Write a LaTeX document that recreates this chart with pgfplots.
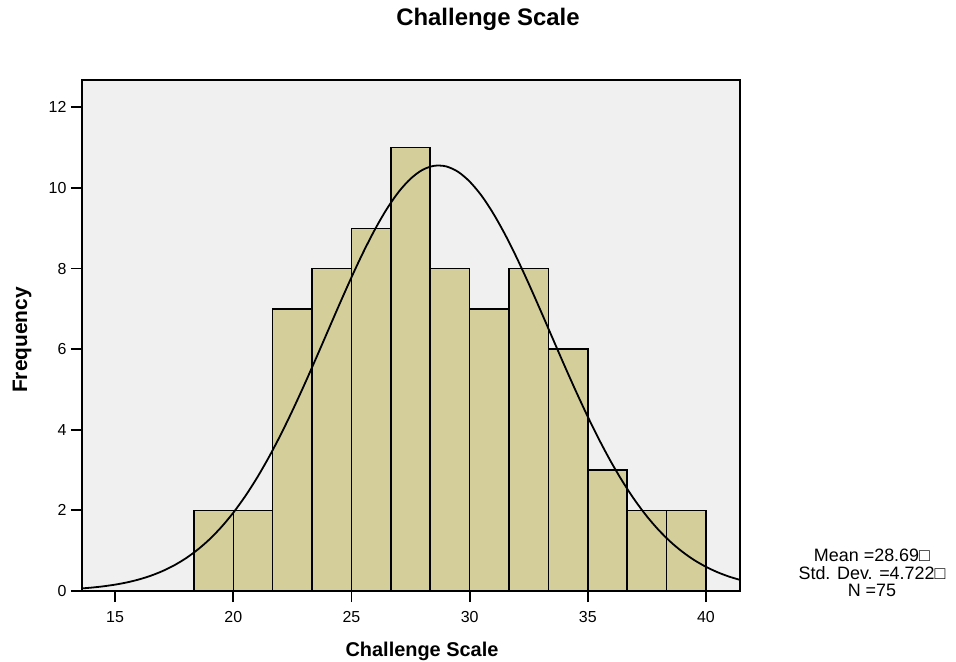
\documentclass[border=0pt]{standalone}
\usepackage{pgfplots}
\pgfplotsset{compat=1.18}
\usepackage{fontspec}
\setmainfont{Liberation Sans}
\definecolor{barfill}{HTML}{D3CE9A}
\definecolor{plotbg}{HTML}{F0F0F0}
\pgfplotstableread{
x y
18.333 2
20 2
21.667 7
23.333 8
25 9
26.667 11
28.333 8
30 7
31.667 8
33.333 6
35 3
36.667 2
38.333 2
40 2
}\bins
\begin{document}
\begin{tikzpicture}
\path[use as bounding box] (-82bp,-71bp) rectangle (874bp,591bp);
\begin{axis}[
  at={(0,0)}, anchor=south west,
  scale only axis, width=658bp, height=511bp,
  xmin=13.6, xmax=41.44, ymin=0, ymax=12.68,
  axis background/.style={fill=plotbg},
  axis line style={line width=1.8bp},
  xtick={15,20,25,30,35,40}, ytick={0,2,4,6,8,10,12},
  xtick pos=bottom, ytick pos=left,
  tick align=outside, major tick length=11bp,
  every tick/.style={line width=1.8bp, black},
  /pgf/number format/assume math mode=true,
  tick label style={font=\fontsize{16}{16}\selectfont},
  xticklabel style={yshift=-6bp},
  yticklabel style={xshift=-1bp},
  axis on top,
  clip=true,
]
\addplot[ybar interval, fill=barfill, draw=none] table[x=x,y=y] {\bins};
\addplot[ybar interval, fill=none, draw=black, line width=1.5bp] table[x=x,y=y] {\bins};
\addplot[smooth, black, line width=1.8bp, mark=none] coordinates {
(13.5,0.060) (14,0.084) (14.5,0.116) (15,0.158) (15.5,0.213) (16,0.285) (16.5,0.377)
(17,0.493) (17.5,0.637) (18,0.814) (18.5,1.029) (19,1.285) (19.5,1.589)
(20,1.942) (20.5,2.347) (21,2.804) (21.5,3.313) (22,3.870) (22.5,4.472)
(23,5.109) (23.5,5.772) (24,6.448) (24.5,7.124) (25,7.782) (25.5,8.406)
(26,8.978) (26.5,9.483) (27,9.905) (27.5,10.229) (28,10.448) (28.5,10.551)
(29,10.537) (29.5,10.406) (30,10.161) (30.5,9.813) (31,9.369) (31.5,8.846)
(32,8.260) (32.5,7.626) (33,6.962) (33.5,6.286) (34,5.611) (34.5,4.954)
(35,4.324) (35.5,3.733) (36,3.186) (36.5,2.690) (37,2.245) (37.5,1.852)
(38,1.512) (38.5,1.220) (39,0.974) (39.5,0.768) (40,0.600) (40.5,0.463)
(41,0.353) (41.5,0.266)
};
\end{axis}
\node[font=\fontsize{24}{24}\selectfont\bfseries] at (406bp,572bp) {Challenge Scale};
\node[font=\fontsize{20}{20}\selectfont\bfseries] at (340bp,-60bp) {Challenge Scale};
\node[font=\fontsize{21}{21}\selectfont\bfseries, rotate=90] at (-60bp,251bp) {Frequency};
\node[font=\fontsize{18}{17.5}\selectfont, align=center] at (790bp,18bp) {Mean =28.69□\\Std. Dev. =4.722□\\N =75};
\end{tikzpicture}
\end{document}
